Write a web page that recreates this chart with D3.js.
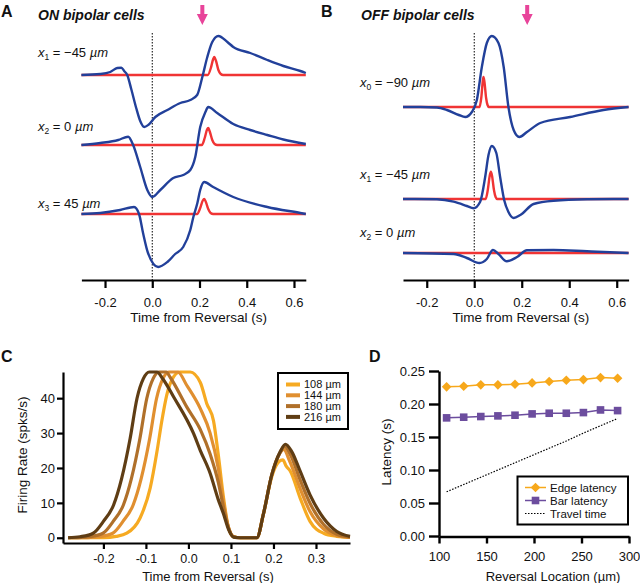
<!DOCTYPE html>
<html><head><meta charset="utf-8">
<script src="https://cdn.jsdelivr.net/npm/d3@7"></script>
<style>
body{margin:0;background:#fff}
svg{display:block}
text{font-family:"Liberation Sans",Arial,Helvetica,sans-serif;fill:#111}
</style>
</head><body>
<svg id="chart" width="640" height="583"></svg>
<script>
// ---------------- DATA ----------------
const timeTicksAB = [-0.2, 0, 0.2, 0.4, 0.6];
const timeTicksC = [-0.2, -0.1, 0, 0.1, 0.2, 0.3];
const rateTicks = [0, 10, 20, 30, 40];
const locTicks = [100, 150, 200, 250, 300];
const latTicks = [0, 0.05, 0.10, 0.15, 0.20, 0.25];

// Panel A: ON bipolar cells, [time (s), response (a.u.)]
const onSubs = ["1", "2", "3"];
const onPos = ["\u221245", "0", "45"];
const onBlue1 = [[-0.30,0],[-0.22,0.1],[-0.178,0.3],[-0.148,0.7],[-0.131,0.73],[-0.119,0.4],[-0.106,0],[-0.089,-1.4],[-0.068,-3.3],[-0.051,-4.6],[-0.034,-5.2],[-0.017,-5.0],[0.013,-4.2],[0.064,-3.5],[0.119,-2.8],[0.161,-2.5],[0.19,-2.0],[0.212,-0.2],[0.233,1.8],[0.254,3.3],[0.28,3.9],[0.318,3.3],[0.343,2.8],[0.415,2.2],[0.487,1.5],[0.555,0.9],[0.627,0.4],[0.65,0.2]];
const onBlue2 = [[-0.30,0],[-0.22,0.2],[-0.144,0.5],[-0.102,0.83],[-0.081,0],[-0.051,-2.2],[-0.021,-4.5],[0,-5.2],[0.034,-4.5],[0.089,-3.3],[0.131,-3.0],[0.161,-2.5],[0.182,-1.2],[0.203,1.8],[0.225,3.3],[0.237,3.8],[0.275,3.2],[0.343,2.1],[0.415,1.5],[0.487,1.0],[0.555,0.55],[0.65,0.1]];
const onBlue3 = [[-0.30,0],[-0.22,0.1],[-0.136,0.4],[-0.077,0.7],[-0.056,0],[-0.039,-1.9],[-0.018,-3.9],[0.025,-5.3],[0.064,-4.8],[0.097,-4.0],[0.131,-3.3],[0.161,-1.6],[0.174,-0.3],[0.191,1.1],[0.203,2.4],[0.22,3.2],[0.258,2.7],[0.343,1.7],[0.487,0.7],[0.627,0.1],[0.65,0]];
const onRed1 = [[-0.30,0],[0.235,0],[0.248,0.7],[0.258,1.6],[0.263,1.8],[0.27,1.4],[0.28,0.5],[0.29,0.1],[0.30,0],[0.65,0]];
const onRed2 = [[-0.30,0],[0.21,0],[0.222,0.7],[0.232,1.55],[0.237,1.7],[0.244,1.3],[0.254,0.5],[0.264,0.1],[0.275,0],[0.65,0]];
const onRed3 = [[-0.30,0],[0.19,0],[0.203,0.6],[0.214,1.35],[0.22,1.5],[0.227,1.2],[0.237,0.5],[0.247,0.1],[0.258,0],[0.65,0]];
const onArrowTime = 0.212;

// Panel B: OFF bipolar cells
const offSubs = ["0", "1", "2"];
const offPos = ["\u221290", "\u221245", "0"];
const offBlue0 = [[-0.30,0],[-0.227,0],[-0.157,-0.05],[-0.115,-0.3],[-0.065,-0.8],[-0.038,-1.0],[-0.01,-0.5],[0.011,0.7],[0.032,4.0],[0.053,6.4],[0.074,7.1],[0.102,6.4],[0.124,4.0],[0.144,0],[0.166,-2.3],[0.19,-3.0],[0.222,-2.5],[0.278,-1.6],[0.404,-1.0],[0.544,-0.3],[0.65,0]];
const offBlue1 = [[-0.30,0],[-0.157,-0.03],[-0.087,-0.27],[-0.031,-0.7],[-0.003,-0.93],[0.025,-0.27],[0.046,2.2],[0.06,4.4],[0.074,5.3],[0.093,4.6],[0.109,2.2],[0.126,-0.1],[0.144,-1.3],[0.166,-1.9],[0.194,-1.6],[0.25,-0.5],[0.334,-0.17],[0.475,-0.03],[0.65,0]];
const offBlue2 = [[-0.30,0],[-0.087,-0.1],[-0.031,-0.5],[0.022,-1.0],[0.053,-0.6],[0.079,0.3],[0.102,-0.1],[0.137,-0.83],[0.18,-0.4],[0.222,0.27],[0.334,0.3],[0.475,0.17],[0.65,0]];
const offRed0 = [[-0.30,0],[0.022,0],[0.03,1.0],[0.036,2.6],[0.039,3.0],[0.043,2.5],[0.05,0.9],[0.056,0.2],[0.062,0],[0.65,0]];
const offRed1 = [[-0.30,0],[0.048,0],[0.057,0.9],[0.065,2.3],[0.07,2.73],[0.075,2.3],[0.083,0.9],[0.09,0.2],[0.097,0],[0.65,0]];
const offRed2 = [[-0.30,0],[0.65,0]];
const offArrowTime = 0.223;

// Panel C: firing rate (spks/s) vs time (s)
const rateLabels = ["108 \u00b5m", "144 \u00b5m", "180 \u00b5m", "216 \u00b5m"];
const rate108 = [[-0.283,0],[-0.2,0.05],[-0.17,0.4],[-0.145,1.3],[-0.114,5.6],[-0.09,14.2],[-0.074,24.7],[-0.063,33.2],[-0.051,40.9],[-0.035,46.1],[-0.02,47.5],[0.004,47.5],[0.028,44.5],[0.043,38.5],[0.059,33.5],[0.07,24],[0.082,12],[0.094,3],[0.106,0.3],[0.122,0],[0.161,0],[0.176,6.6],[0.196,17.5],[0.213,21.8],[0.222,22.3],[0.23,20.5],[0.239,19.2],[0.263,11.3],[0.286,4.7],[0.318,1.3],[0.349,0.4],[0.38,0.1]];
const rate144 = [[-0.283,0],[-0.237,0.05],[-0.209,0.3],[-0.178,1.3],[-0.154,4.7],[-0.13,9.4],[-0.111,17],[-0.091,28.5],[-0.075,39.9],[-0.06,45.6],[-0.046,47.5],[-0.025,47.5],[-0.004,43.7],[0.028,37],[0.051,30],[0.07,20],[0.082,10.5],[0.094,3],[0.106,0.3],[0.122,0],[0.161,0],[0.176,6.6],[0.196,18],[0.214,24],[0.224,25.3],[0.238,22],[0.263,14],[0.286,7.5],[0.318,2.5],[0.349,0.6],[0.38,0.1]];
const rate180 = [[-0.283,0],[-0.26,0.05],[-0.232,0.3],[-0.201,1.3],[-0.177,4.7],[-0.153,9.4],[-0.134,17],[-0.114,28.5],[-0.098,39.9],[-0.083,45.6],[-0.069,47.5],[-0.052,47.5],[-0.043,46],[-0.004,37.5],[0.028,31],[0.051,24],[0.07,16],[0.082,9],[0.094,3],[0.106,0.3],[0.122,0],[0.161,0],[0.176,6.6],[0.196,18],[0.216,24.5],[0.226,26.2],[0.24,23.8],[0.263,16.5],[0.286,9.9],[0.318,3.8],[0.349,1.0],[0.38,0.2]];
const rate216 = [[-0.283,0],[-0.255,0.3],[-0.224,1.3],[-0.2,4.7],[-0.176,9.4],[-0.157,17],[-0.137,28.5],[-0.121,39.9],[-0.106,45.6],[-0.092,47.5],[-0.074,47.5],[-0.06,45.5],[-0.035,40.4],[0.012,29.9],[0.028,25],[0.051,18.5],[0.07,11],[0.082,7],[0.095,2.2],[0.106,0.2],[0.122,0],[0.161,0],[0.176,6.6],[0.196,18],[0.216,24.7],[0.228,26.8],[0.243,24.7],[0.263,19],[0.286,12.3],[0.318,5.6],[0.349,1.8],[0.38,0.4]];

// Panel D: latency (s) vs reversal location (um)
const reversalLoc = [108, 126, 144, 162, 180, 198, 216, 234, 252, 270, 288];
const edgeLatency = [0.226, 0.227, 0.229, 0.229, 0.230, 0.232, 0.234, 0.236, 0.237, 0.240, 0.239];
const barLatency  = [0.179, 0.180, 0.181, 0.182, 0.183, 0.185, 0.186, 0.186, 0.187, 0.191, 0.190];
const travelTime  = [0.067, 0.078, 0.089, 0.100, 0.111, 0.122, 0.133, 0.144, 0.156, 0.167, 0.178];
const latLegend = ["Edge latency", "Bar latency", "Travel time"];

// ---------------- DRAWING ----------------
const FONT = '"Liberation Sans",Arial,Helvetica,sans-serif';
const svg = d3.select("#chart");
const BLUE = "#22409a", RED = "#f03434", MAGENTA = "#e8449a";
const rateColors = ["#f6aa22", "#e08f30", "#b0702a", "#5f3d14"];
const ORANGE = "#f7a81b", PURPLE = "#6c4d9e";

function styleAxis(g, w, fs) {
  g.attr("font-family", FONT).attr("font-size", fs || 13);
  g.select(".domain").attr("stroke", "#000").attr("stroke-width", w);
  g.selectAll(".tick line").attr("stroke", "#000").attr("stroke-width", w);
  g.selectAll(".tick text").attr("fill", "#111");
}

function panelLetter(x, y, t) {
  svg.append("text").attr("x", x).attr("y", y).attr("font-size", 16)
    .attr("font-weight", "bold").text(t);
}

function traceLabel(x, y, sub, pos) {
  const t = svg.append("text").attr("x", x).attr("y", y).attr("font-size", 13);
  t.append("tspan").attr("font-style", "italic").text("x");
  t.append("tspan").attr("font-size", 8.5).attr("dy", 3).text(sub);
  t.append("tspan").attr("dy", -3).text(" = " + pos + " ");
  t.append("tspan").attr("font-style", "italic").text("\u00b5m");
}

function tracePanel(cfg) {
  const x = d3.scaleLinear().domain([-0.3, 0.65]).range(cfg.range);
  const amp = d3.scaleLinear().domain([0, 1]).range([0, -10]);
  const g = svg.append("g");
  g.append("line").attr("x1", x(0)).attr("x2", x(0)).attr("y1", 33).attr("y2", 280)
    .attr("stroke", "#000").attr("stroke-width", 1).attr("stroke-dasharray", "1.5,1.5");
  cfg.blues.forEach((b, i) => {
    const base = cfg.bases[i];
    const line = d3.line().x(d => x(d[0])).y(d => base + amp(d[1])).curve(d3.curveMonotoneX);
    g.append("path").attr("d", line(cfg.reds[i])).attr("fill", "none")
      .attr("stroke", RED).attr("stroke-width", 2.4);
    g.append("path").attr("d", line(b)).attr("fill", "none")
      .attr("stroke", BLUE).attr("stroke-width", 2.4).attr("stroke-linejoin", "round");
  });
  const ax = x(cfg.arrow);
  g.append("path").attr("d", `M${ax-2},5 H${ax+2} V14 H${ax+5.5} L${ax},25 L${ax-5.5},14 H${ax-2} Z`)
    .attr("fill", MAGENTA);
  const axis = g.append("g").attr("transform", "translate(0,280)")
    .call(d3.axisBottom(x).tickValues(timeTicksAB)
      .tickFormat(d => d3.format(".1f")(d).replace("\u2212", "-"))
      .tickSize(8).tickPadding(10).tickSizeOuter(0));
  styleAxis(axis, 2.2);
  g.append("text").attr("x", (cfg.range[0] + cfg.range[1]) / 2 + 5).attr("y", 322)
    .attr("text-anchor", "middle").attr("font-size", 13.5).text("Time from Reversal (s)");
  g.append("text").attr("x", cfg.titleX).attr("y", 19.5).attr("font-size", 14)
    .attr("font-weight", "bold").attr("font-style", "italic").text(cfg.title);
  cfg.labelY.forEach((ly, i) => traceLabel(cfg.labelX, ly, cfg.subs[i], cfg.pos[i]));
}

panelLetter(1, 17, "A");
panelLetter(321, 17, "B");
tracePanel({range: [81.4, 305.8], bases: [75, 145, 214], blues: [onBlue1, onBlue2, onBlue3],
  reds: [onRed1, onRed2, onRed3], arrow: onArrowTime, title: "ON bipolar cells", titleX: 38,
  labelX: 38, labelY: [57, 131, 208], subs: onSubs, pos: onPos});
tracePanel({range: [403, 628.6], bases: [107, 199, 253], blues: [offBlue0, offBlue1, offBlue2],
  reds: [offRed0, offRed1, offRed2], arrow: offArrowTime, title: "OFF bipolar cells", titleX: 361,
  labelX: 360, labelY: [87, 179, 237], subs: offSubs, pos: offPos});

// ---- Panel C ----
panelLetter(1, 362, "C");
{
  const x = d3.scaleLinear().domain([-0.295, 0.38]).range([63, 350]);
  const y = d3.scaleLinear().domain([-1.5, 47.5]).range([543, 372]);
  const g = svg.append("g");
  const line = d3.line().x(d => x(d[0])).y(d => y(d[1])).curve(d3.curveMonotoneX);
  [rate108, rate144, rate180, rate216].forEach((s, i) => {
    g.append("path").attr("d", line(s)).attr("fill", "none").attr("stroke", rateColors[i])
      .attr("stroke-width", 3.2).attr("stroke-linejoin", "round");
  });
  const xa = g.append("g").attr("transform", "translate(0,543)")
    .call(d3.axisBottom(x).tickValues(timeTicksC).tickSize(6).tickPadding(5).tickSizeOuter(0)
      .tickFormat(d => d3.format(".1f")(d).replace("\u2212", "-")));
  styleAxis(xa, 2.2, 12.5);
  const ya = g.append("g").attr("transform", "translate(63,0)")
    .call(d3.axisLeft(y).tickValues(rateTicks).tickSize(6).tickPadding(2).tickSizeOuter(0));
  styleAxis(ya, 2.2, 13);
  g.append("text").attr("x", 208).attr("y", 580.5).attr("text-anchor", "middle")
    .attr("font-size", 13).text("Time from Reversal (s)");
  g.append("text").attr("transform", "translate(27,455) rotate(-90)").attr("text-anchor", "middle")
    .attr("font-size", 13.5).text("Firing Rate (spks/s)");
  g.append("rect").attr("x", 278).attr("y", 373).attr("width", 70).attr("height", 56)
    .attr("fill", "#fff").attr("stroke", "#000").attr("stroke-width", 2);
  rateLabels.forEach((lab, i) => {
    const ly = 384.5 + i * 10.8;
    g.append("line").attr("x1", 286).attr("x2", 300).attr("y1", ly).attr("y2", ly)
      .attr("stroke", rateColors[i]).attr("stroke-width", 4);
    g.append("text").attr("x", 304).attr("y", ly).attr("dy", "0.36em").attr("font-size", 11).text(lab);
  });
}

// ---- Panel D ----
panelLetter(369, 362, "D");
{
  const x = d3.scaleLinear().domain([100, 300]).range([439, 629]);
  const y = d3.scaleLinear().domain([0, 0.25]).range([536, 371]);
  const g = svg.append("g");
  const pts = (arr) => reversalLoc.map((r, i) => [r, arr[i]]);
  const line = d3.line().x(d => x(d[0])).y(d => y(d[1]));
  g.append("path").attr("d", line(pts(travelTime))).attr("fill", "none").attr("stroke", "#000")
    .attr("stroke-width", 1.2).attr("stroke-dasharray", "1.5,1.5");
  g.append("path").attr("d", line(pts(barLatency))).attr("fill", "none").attr("stroke", PURPLE).attr("stroke-width", 1.5);
  g.append("path").attr("d", line(pts(edgeLatency))).attr("fill", "none").attr("stroke", ORANGE).attr("stroke-width", 1.5);
  const sq = "M-3.8,-3.8H3.8V3.8H-3.8Z";
  const di = "M0,-4.8L4.8,0L0,4.8L-4.8,0Z";
  g.selectAll(".bar").data(pts(barLatency)).join("path")
    .attr("transform", d => `translate(${x(d[0])},${y(d[1])})`).attr("d", sq).attr("fill", PURPLE);
  g.selectAll(".edge").data(pts(edgeLatency)).join("path")
    .attr("transform", d => `translate(${x(d[0])},${y(d[1])})`).attr("d", di).attr("fill", ORANGE);
  const xa = g.append("g").attr("transform", "translate(0,536.5)")
    .call(d3.axisBottom(x).tickValues(locTicks).tickSize(7).tickPadding(8).tickSizeOuter(0));
  styleAxis(xa, 2.4, 13);
  const ya = g.append("g").attr("transform", "translate(439,0)")
    .call(d3.axisLeft(y).tickValues(latTicks).tickFormat(d3.format(".2f")).tickSize(10).tickPadding(4).tickSizeOuter(0));
  styleAxis(ya, 2.4, 13);
  g.append("text").attr("x", 553).attr("y", 580.5).attr("text-anchor", "middle")
    .attr("font-size", 13).text("Reversal Location (\u00b5m)");
  g.append("text").attr("transform", "translate(391,452) rotate(-90)").attr("text-anchor", "middle")
    .attr("font-size", 13.5).text("Latency (s)");
  g.append("rect").attr("x", 517.5).attr("y", 476.5).attr("width", 110.5).attr("height", 48)
    .attr("fill", "#fff").attr("stroke", "#000").attr("stroke-width", 2);
  const lys = [487.5, 500.5, 513.5];
  const lcol = [ORANGE, PURPLE, "#000"];
  latLegend.forEach((lab, i) => {
    const ly = lys[i];
    const l = g.append("line").attr("x1", 525).attr("x2", 546).attr("y1", ly).attr("y2", ly)
      .attr("stroke", lcol[i]).attr("stroke-width", i === 2 ? 1.2 : 1.5);
    if (i === 2) l.attr("stroke-dasharray", "1.5,1.5");
    if (i === 0) g.append("path").attr("transform", `translate(535.5,${ly})`).attr("d", di).attr("fill", ORANGE);
    if (i === 1) g.append("path").attr("transform", `translate(535.5,${ly})`).attr("d", sq).attr("fill", PURPLE);
    g.append("text").attr("x", 550).attr("y", ly).attr("dy", "0.36em").attr("font-size", 11.5).text(lab);
  });
}
</script>
</body></html>
